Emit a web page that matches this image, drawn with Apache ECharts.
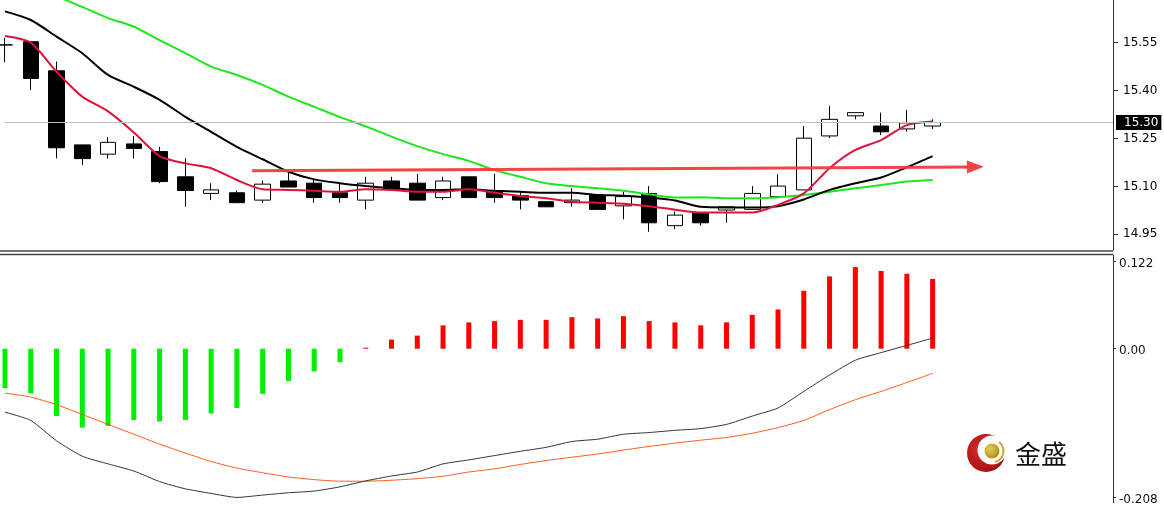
<!DOCTYPE html>
<html><head><meta charset="utf-8">
<script src="https://cdn.jsdelivr.net/npm/echarts@6/dist/echarts.min.js"></script>
<style>html,body{margin:0;padding:0;background:#fff;overflow:hidden}#c{width:1164px;height:506px}</style>
</head><body><div id="c"></div>
<script>
// ---- data ----
const categories = ['1','2','3','4','5','6','7','8','9','10','11','12','13','14','15','16','17','18','19','20','21','22','23','24','25','26','27','28','29','30','31','32','33','34','35','36','37','38','39','40','41','42','43','44'];
const candleOpen  = [15.543,15.553,15.462,15.230,15.201,15.233,15.209,15.130,15.078,15.080,15.057,15.117,15.110,15.080,15.057,15.117,15.110,15.065,15.130,15.083,15.071,15.052,15.049,15.073,15.039,15.078,14.977,15.016,15.026,15.028,15.068,15.089,15.258,15.321,15.289,15.280,15.289];
const candleClose = [15.543,15.438,15.221,15.187,15.238,15.219,15.115,15.087,15.089,15.049,15.107,15.098,15.065,15.065,15.110,15.091,15.057,15.117,15.065,15.065,15.057,15.036,15.057,15.028,15.068,14.986,15.010,14.986,15.036,15.078,15.101,15.251,15.310,15.331,15.271,15.299,15.300];
const candleLow   = [15.489,15.402,15.188,15.167,15.187,15.187,15.110,15.036,15.057,15.049,15.049,15.098,15.049,15.049,15.028,15.091,15.057,15.057,15.065,15.049,15.028,15.036,15.036,15.028,14.997,14.958,14.966,14.977,14.986,15.028,15.068,15.089,15.251,15.310,15.261,15.271,15.280];
const candleHigh  = [15.565,15.553,15.491,15.230,15.254,15.258,15.224,15.188,15.110,15.087,15.118,15.146,15.123,15.110,15.130,15.130,15.139,15.130,15.130,15.139,15.083,15.052,15.094,15.073,15.083,15.101,15.021,15.016,15.036,15.101,15.138,15.289,15.352,15.331,15.331,15.339,15.310];
const maFast = [15.571,15.550,15.459,15.381,15.335,15.269,15.195,15.172,15.157,15.120,15.091,15.089,15.086,15.083,15.091,15.089,15.083,15.083,15.091,15.080,15.070,15.063,15.052,15.049,15.046,15.038,15.027,15.018,15.018,15.018,15.042,15.078,15.157,15.214,15.245,15.292,15.303];
const maMid  = [15.648,15.621,15.569,15.517,15.449,15.412,15.371,15.318,15.271,15.224,15.185,15.146,15.122,15.110,15.101,15.094,15.089,15.089,15.091,15.086,15.083,15.080,15.080,15.073,15.071,15.065,15.056,15.036,15.034,15.034,15.038,15.059,15.089,15.110,15.128,15.160,15.195];
const maSlow = [15.770,15.735,15.696,15.662,15.627,15.600,15.558,15.517,15.475,15.449,15.418,15.381,15.349,15.317,15.288,15.256,15.226,15.201,15.180,15.151,15.130,15.110,15.101,15.094,15.086,15.075,15.065,15.066,15.063,15.063,15.066,15.073,15.083,15.094,15.104,15.115,15.120];
const macdHist = [-0.0552,-0.0625,-0.0942,-0.1103,-0.1080,-0.0997,-0.1017,-0.0997,-0.0906,-0.0828,-0.0630,-0.0451,-0.0317,-0.0189,0.0015,0.0128,0.0183,0.0327,0.0368,0.0386,0.0404,0.0404,0.0441,0.0423,0.0455,0.0386,0.0368,0.0327,0.0368,0.0473,0.0548,0.0810,0.1011,0.1141,0.1086,0.1048,0.0975];
const macdMain = [-0.0887,-0.1003,-0.1287,-0.1503,-0.1610,-0.1710,-0.1858,-0.1959,-0.2023,-0.2079,-0.2046,-0.2014,-0.1990,-0.1931,-0.1848,-0.1779,-0.1724,-0.1610,-0.1554,-0.1494,-0.1434,-0.1379,-0.1297,-0.1265,-0.1196,-0.1172,-0.1141,-0.1117,-0.1058,-0.0942,-0.0828,-0.0597,-0.0368,-0.0161,-0.0055,0.0046,0.0148];
const macdSignal = [-0.0621,-0.0676,-0.0782,-0.0920,-0.1058,-0.1196,-0.1334,-0.1458,-0.1577,-0.1669,-0.1734,-0.1793,-0.1830,-0.1852,-0.1852,-0.1839,-0.1817,-0.1783,-0.1724,-0.1679,-0.1618,-0.1563,-0.1517,-0.1472,-0.1417,-0.1366,-0.1320,-0.1279,-0.1241,-0.1182,-0.1103,-0.1003,-0.0851,-0.0713,-0.0597,-0.0473,-0.0345];
const priceTicks = [14.95, 15.10, 15.25, 15.40, 15.55];
const macdTicks = [0.122, 0, -0.208];
const macdTickLabels = ['0.122', '0.00', '-0.208'];
const currentPrice = 15.30;
const arrowStart = [9.59, 15.149];
const arrowEnd = [37.66, 15.161];

// ---- build ----
const candleData = candleOpen.map((o, i) => [o, candleClose[i], candleLow[i], candleHigh[i]]);
const FONT = 'DejaVu Sans';
const chart = echarts.init(document.getElementById('c'), null, {renderer: 'canvas'});
const axisLineStyle = {color: '#333', width: 1};

chart.setOption({
  animation: false,
  backgroundColor: '#fff',
  grid: [
    {left: 5, right: 51, top: 0, height: 250},
    {left: 5, right: 51, top: 255, height: 251}
  ],
  xAxis: [
    {type: 'category', gridIndex: 0, data: categories, boundaryGap: false, axisLine: {show: false}, axisTick: {show: false}, axisLabel: {show: false}, splitLine: {show: false}},
    {type: 'category', gridIndex: 1, data: categories, boundaryGap: false, axisLine: {show: false}, axisTick: {show: false}, axisLabel: {show: false}, splitLine: {show: false}},
    {type: 'value', gridIndex: 0, min: 0, max: categories.length - 1, show: false, axisLine: {show: false, onZero: false}, splitLine: {show: false}}
  ],
  yAxis: [
    {type: 'value', gridIndex: 0, position: 'right', min: 14.9008, max: 15.6837,
     axisLine: {show: true, onZero: false, lineStyle: axisLineStyle},
     axisTick: {show: true, length: 5, customValues: priceTicks, lineStyle: axisLineStyle},
     axisLabel: {customValues: priceTicks, formatter: v => v.toFixed(2), margin: 10, color: '#000', fontFamily: FONT, fontSize: 12},
     splitLine: {show: false}},
    {type: 'value', gridIndex: 1, position: 'right', min: -0.2152, max: 0.131,
     axisLine: {show: true, onZero: false, lineStyle: axisLineStyle},
     axisTick: {show: true, length: 3, customValues: macdTicks, lineStyle: axisLineStyle},
     axisLabel: {customValues: macdTicks, margin: 6, color: '#111', fontFamily: FONT, fontSize: 12,
       rich: {a: {fontFamily: FONT, fontSize: 12, color: '#111', padding: [5, 0, 0, 0]}},
       formatter: v => { const k = macdTicks.findIndex(t => Math.abs(t - v) < 1e-6); return k >= 0 ? '{a|' + macdTickLabels[k] + '}' : ''; }},
     splitLine: {show: false}}
  ],
  series: [
    {type: 'candlestick', xAxisIndex: 0, yAxisIndex: 0, data: candleData, barWidth: 16, clip: false,
     itemStyle: {color: '#fff', color0: '#000', borderColor: '#000', borderColor0: '#000', borderWidth: 1},
     markLine: {silent: true, symbol: ['none', 'none'], animation: false,
       lineStyle: {color: '#c0c0c0', width: 1, type: 'solid'},
       label: {show: true, position: 'end', distance: 3, formatter: () => currentPrice.toFixed(2), color: '#fff', backgroundColor: '#000', padding: [2, 3, 1, 8], fontFamily: FONT, fontSize: 12},
       data: [{yAxis: currentPrice}]}},
    {type: 'line', xAxisIndex: 0, yAxisIndex: 0, data: maSlow, showSymbol: false, smooth: 0.25, lineStyle: {color: '#1ee61e', width: 2}, z: 3},
    {type: 'line', xAxisIndex: 0, yAxisIndex: 0, data: maMid, showSymbol: false, smooth: 0.25, lineStyle: {color: '#000', width: 2}, z: 3},
    {type: 'line', xAxisIndex: 0, yAxisIndex: 0, data: maFast, showSymbol: false, smooth: 0.25, lineStyle: {color: '#dc143c', width: 2}, z: 3},
    {type: 'line', xAxisIndex: 2, yAxisIndex: 0, data: [arrowStart, arrowEnd], showSymbol: false, lineStyle: {width: 0, opacity: 0}, z: 5,
     markLine: {silent: true, animation: false, symbol: ['none', 'triangle'], symbolSize: [13, 17],
       lineStyle: {color: '#f03c3c', width: 3, type: 'solid', opacity: 0.95}, label: {show: false},
       data: [[{coord: arrowStart}, {coord: arrowEnd}]]}},
    {type: 'bar', xAxisIndex: 1, yAxisIndex: 1, data: macdHist, barWidth: 5,
     itemStyle: {color: p => p.value >= 0 ? '#ff0000' : '#00ee00'}},
    {type: 'line', xAxisIndex: 1, yAxisIndex: 1, data: macdSignal, showSymbol: false, smooth: 0.2, lineStyle: {color: '#ff5a1e', width: 1}, z: 3},
    {type: 'line', xAxisIndex: 1, yAxisIndex: 1, data: macdMain, showSymbol: false, smooth: 0.2, lineStyle: {color: '#333', width: 1}, z: 3}
  ],
  graphic: [
    {type: 'line', shape: {x1: 0, y1: 251, x2: 1113, y2: 251}, style: {stroke: '#444', lineWidth: 1.5}, silent: true},
    {type: 'line', shape: {x1: 0, y1: 254.5, x2: 1113, y2: 254.5}, style: {stroke: '#444', lineWidth: 1.5}, silent: true},
    {type: 'group', silent: true, children: [
      {type: 'circle', shape: {cx: 986, cy: 453, r: 19}, style: {fill: new echarts.graphic.RadialGradient(0.4, 0.4, 0.7, [{offset: 0, color: '#e02a2a'}, {offset: 1, color: '#9e0d12'}])}},
      {type: 'circle', shape: {cx: 992, cy: 450, r: 14.5}, style: {fill: '#fff'}},
      {type: 'arc', shape: {cx: 992, cy: 451, r: 11.5, startAngle: -0.9, endAngle: 1.3}, style: {stroke: '#c9a83a', lineWidth: 2, fill: null}},
      {type: 'circle', shape: {cx: 992, cy: 451, r: 7.5}, style: {fill: new echarts.graphic.RadialGradient(0.35, 0.35, 0.8, [{offset: 0, color: '#e8cf5a'}, {offset: 1, color: '#a8820f'}])}},
      {type: 'text', x: 1015, y: 454, style: {text: '金盛', fill: '#111', fontSize: 26, fontFamily: 'Noto Sans CJK SC', verticalAlign: 'middle', align: 'left'}}
    ]}
  ]
});
</script>
</body></html>
